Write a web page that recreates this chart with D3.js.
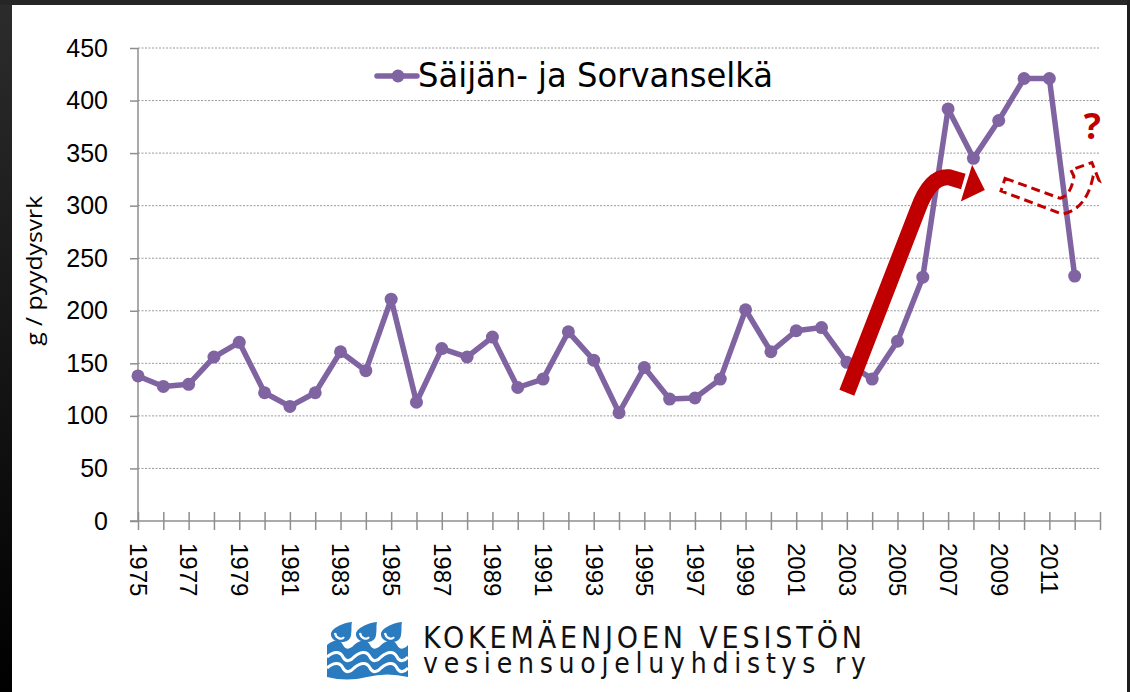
<!DOCTYPE html>
<html>

<head>
    <meta charset="utf-8">
    <style>
        body {
            margin: 0;
            background: #fff;
        }

        svg {
            display: block;
            font-family: "Open Sans", "Liberation Sans", sans-serif;
        }

        .y .tick line,
        .x .tick line,
        .x .domain,
        .y .domain {
            stroke: #8e8e8e;
            stroke-width: 1.5;
        }

        .y .tick text {
            font-size: 25px;
            fill: #000;
        }

        .x .tick text {
            font-size: 24px;
            fill: #000;
        }

        .grid line {
            stroke: #9a9a9a;
            stroke-width: 1;
            stroke-dasharray: 2 1.5;
        }

        .logo-text {
            font-family: "DejaVu Sans Condensed", "DejaVu Sans", sans-serif;
            fill: #111;
        }
    </style>
</head>

<body>
    <svg width="1130" height="692"></svg>

    <script src="https://d3js.org/d3.v7.min.js"></script>

    <script>
        // data
        let years = [1975, 1976, 1977, 1978, 1979, 1980, 1981, 1982, 1983, 1984,
            1985, 1986, 1987, 1988, 1989, 1990, 1991, 1992, 1993, 1994,
            1995, 1996, 1997, 1998, 1999, 2000, 2001, 2002, 2003, 2004,
            2005, 2006, 2007, 2008, 2009, 2010, 2011, 2012]
        let catch_g = [138, 128, 130, 156, 170, 122, 109, 122, 161, 143,
            211, 113, 164, 156, 175, 127, 135, 180, 153, 103,
            146, 116, 117, 135, 201, 161, 181, 184, 151, 135,
            171, 232, 392, 345, 381, 421, 421, 233]
        let yTicks = [0, 50, 100, 150, 200, 250, 300, 350, 400, 450]
        let xTickYears = [1975, 1976, 1977, 1978, 1979, 1980, 1981, 1982, 1983, 1984,
            1985, 1986, 1987, 1988, 1989, 1990, 1991, 1992, 1993, 1994,
            1995, 1996, 1997, 1998, 1999, 2000, 2001, 2002, 2003, 2004,
            2005, 2006, 2007, 2008, 2009, 2010, 2011, 2012, 2013]
        let xLabels = [1975, 1977, 1979, 1981, 1983, 1985, 1987, 1989, 1991, 1993,
            1995, 1997, 1999, 2001, 2003, 2005, 2007, 2009, 2011]
        let seriesName = "Säijän- ja Sorvanselkä"
        let yTitle = "g / pyydysvrk"
        let logoLine1 = "KOKEMÄENJOEN VESISTÖN"
        let logoLine2 = "vesiensuojeluyhdistys ry"

        // annotation arrows, in [year, value] space
        let upArrow = [[2003.0, 122], [2005.8, 296], [2006.3, 329], [2007.05, 327], [2007.6, 323]]
        let upArrowHead = [[2007.95, 339], [2008.45, 315], [2007.5, 304]]
        let dashArrow = [[2009.25, 326], [2011.42, 307], [2011.85, 309], [2011.97, 328],
            [2011.85, 334], [2012.68, 341], [2012.96, 324], [2012.72, 327],
            [2012.45, 296], [2011.5, 292], [2009.09, 314]]

        let width = 1130;
        let height = 692;
        let margin = { top: 48, right: 30, bottom: 171, left: 138 };

        let svg = d3.select("svg")

        let data = years.map((yr, i) => ({ year: yr, value: catch_g[i] }))

        let x = d3.scaleLinear()
            .domain([1975, 2013])
            .range([margin.left, width - margin.right]);

        let y = d3.scaleLinear()
            .domain([0, 450])
            .range([height - margin.bottom, margin.top]);

        let px = p => x(p[0]) + "," + y(p[1])

        // dark slide edges
        let grad = svg.append("defs").append("linearGradient")
            .attr("id", "edge").attr("x1", 0).attr("y1", 0).attr("x2", 0).attr("y2", 1)
        grad.append("stop").attr("offset", "0%").attr("stop-color", "#2c2c2c")
        grad.append("stop").attr("offset", "100%").attr("stop-color", "#000")

        svg.append("rect").attr("x", 0).attr("y", 0).attr("width", 12).attr("height", height)
            .style("fill", "url(#edge)")
        svg.append("rect").attr("x", 0).attr("y", 0).attr("width", width).attr("height", 5)
            .style("fill", "#262626")
        svg.append("rect").attr("x", width - 3).attr("y", 0).attr("width", 3).attr("height", height)
            .style("fill", "#1e1e1e")

        // dotted gridlines
        svg.append("g")
            .attr("class", "grid")
            .selectAll("line")
            .data(yTicks.filter(d => d > 0))
            .join("line")
            .attr("x1", x(1975))
            .attr("x2", x(2013))
            .attr("y1", d => y(d))
            .attr("y2", d => y(d))

        let yAxisSettings = d3.axisLeft(y)
            .tickValues(yTicks)
            .tickSize(8)
            .tickPadding(22)

        svg.append("g")
            .attr("class", "y axis")
            .attr("transform", `translate(${margin.left},0)`)
            .call(yAxisSettings)
            .call(g => g.select(".domain").attr("d", `M0,${y(450)}V${y(0)}`))

        let xAxisSettings = d3.axisBottom(x)
            .tickValues(xTickYears)
            .tickSize(9)
            .tickFormat(d => xLabels.includes(d) ? d : "")

        let xAxis = svg.append("g")
            .attr("class", "x axis")
            .attr("transform", `translate(0,${y(0)})`)
            .call(xAxisSettings)

        xAxis.select(".domain").attr("d", `M${margin.left - 8},0H${x(2013)}`)
        xAxis.selectAll(".tick line").attr("y1", -9)
        xAxis.selectAll(".tick text")
            .attr("transform", "rotate(90)")
            .attr("x", 22)
            .attr("y", 0)
            .attr("dy", "0.36em")
            .style("text-anchor", "start")

        // y title
        svg.append("text")
            .attr("transform", `translate(42,${y(238)}) rotate(-90)`)
            .attr("textLength", 150)
            .attr("lengthAdjust", "spacingAndGlyphs")
            .style("text-anchor", "middle")
            .style("font-size", "21px")
            .text(yTitle)

        // the series
        let purple = "#8064a2"
        let line = d3.line()
            .x(d => x(d.year))
            .y(d => y(d.value))

        svg.append("path")
            .datum(data)
            .attr("d", line)
            .style("fill", "none")
            .style("stroke", purple)
            .style("stroke-width", 5.5)
            .style("stroke-linejoin", "round")

        svg.append("g")
            .selectAll("circle")
            .data(data)
            .join("circle")
            .attr("cx", d => x(d.year))
            .attr("cy", d => y(d.value))
            .attr("r", 6.5)
            .style("fill", purple)

        // legend
        let legend = svg.append("g").attr("transform", "translate(377,76)")
        legend.append("line")
            .attr("x1", 0).attr("x2", 40).attr("y1", 0).attr("y2", 0)
            .style("stroke", purple).style("stroke-width", 5.5).style("stroke-linecap", "round")
        legend.append("circle").attr("cx", 21).attr("cy", 0).attr("r", 6.5).style("fill", purple)
        legend.append("text")
            .attr("x", 41)
            .attr("y", 11)
            .attr("textLength", 355)
            .attr("lengthAdjust", "spacingAndGlyphs")
            .style("font-family", "'DejaVu Sans', sans-serif")
            .style("font-size", "34px")
            .text(seriesName)

        // red arrow going up
        let red = "#c00000"
        svg.append("path")
            .attr("d", `M${px(upArrow[0])}L${px(upArrow[1])}Q${px(upArrow[2])} ${px(upArrow[3])}L${px(upArrow[4])}`)
            .style("fill", "none")
            .style("stroke", red)
            .style("stroke-width", 16)

        svg.append("polygon")
            .attr("points", upArrowHead.map(px).join(" "))
            .style("fill", red)

        // dashed "what next" arrow
        let da = dashArrow
        svg.append("path")
            .attr("d", `M${px(da[0])}L${px(da[1])}Q${px(da[2])} ${px(da[3])}L${px(da[4])}L${px(da[5])}` +
                `L${px(da[6])}L${px(da[7])}Q${px(da[8])} ${px(da[9])}L${px(da[10])}Z`)
            .style("fill", "none")
            .style("stroke", red)
            .style("stroke-width", 3)
            .style("stroke-dasharray", "9 5")

        svg.append("text")
            .attr("x", x(2012.7))
            .attr("y", y(363))
            .style("text-anchor", "middle")
            .style("font-size", "36px")
            .style("font-weight", "bold")
            .style("fill", red)
            .text("?")

        // logo at the bottom
        let blue = "#2a7bbf"
        let logo = svg.append("g").attr("transform", "translate(327,620)")
        ;[14, 39, 64].forEach(cx => {
            logo.append("path")
                .attr("d", `M${cx + 11},2 C${cx + 1},3 ${cx - 11},9 ${cx - 10},15 C${cx - 9},24 ${cx + 9},25 ${cx + 10},15 C${cx + 11},9 ${cx + 10},6 ${cx + 11},2 Z`)
                .style("fill", blue)
            logo.append("path")
                .attr("d", `M${cx - 6},13 C${cx - 5},19 ${cx + 1},20 ${cx + 3},17`)
                .style("fill", "none").style("stroke", "#fff").style("stroke-width", 2.2)
        })

        // wave block: blue body with white wavy cuts
        let wave = (wy, amp) => {
            let d = `M0,${wy}`
            for (let k = 0; k < 3; k++) {
                let x0 = k * 27
                d += `C${x0 + 7},${wy - amp} ${x0 + 13},${wy - amp} ${x0 + 16},${wy} S${x0 + 24},${wy + amp * 0.6} ${x0 + 27},${wy}`
            }
            return d
        }
        logo.append("path")
            .attr("d", wave(25, 6) + "L81,57 Q60,52 40,57 Q20,62 0,57 Z")
            .style("fill", blue)
        ;[37, 48].forEach(wy => {
            logo.append("path")
                .attr("d", wave(wy, 6))
                .style("fill", "none")
                .style("stroke", "#fff")
                .style("stroke-width", 3)
        })

        svg.append("text")
            .attr("class", "logo-text")
            .attr("x", 423)
            .attr("y", 648)
            .attr("textLength", 439)
            .attr("lengthAdjust", "spacing")
            .style("font-size", "30px")
            .text(logoLine1)

        svg.append("text")
            .attr("class", "logo-text")
            .attr("x", 423)
            .attr("y", 673)
            .attr("textLength", 443)
            .attr("lengthAdjust", "spacing")
            .style("font-size", "28px")
            .text(logoLine2)
    </script>
</body>

</html>
